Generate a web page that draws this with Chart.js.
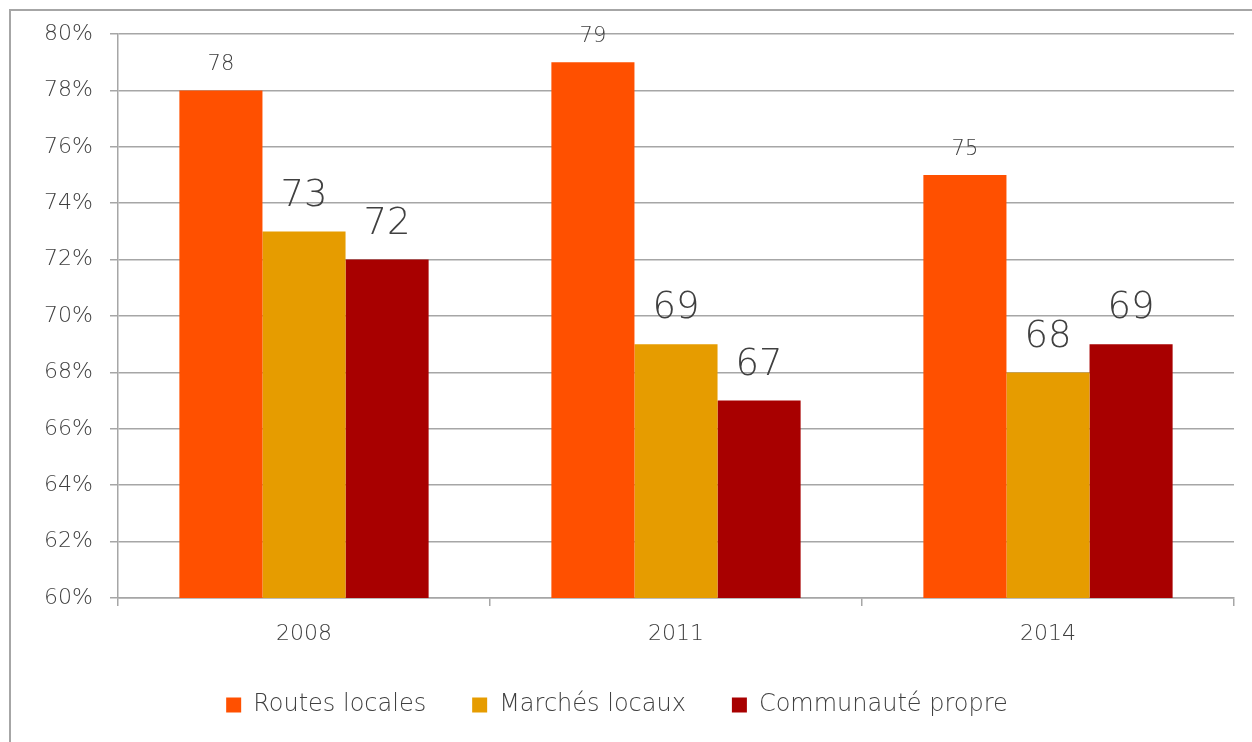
<!DOCTYPE html>
<html>
<head>
<meta charset="utf-8">
<script src="https://cdn.jsdelivr.net/npm/chart.js@4"></script>
<style>
    html, body { margin: 0; padding: 0; background: #fff; overflow: hidden; }
    #wrap { position: relative; width: 1252px; height: 742px; }
    #frame {
        position: absolute; left: 9px; top: 9px; width: 1300px; height: 800px;
        border-left: 2px solid #a6a6a6; border-top: 2px solid #a6a6a6;
        pointer-events: none;
    }
</style>
</head>
<body>
<div id="wrap">
    <canvas id="chart" width="1252" height="742"></canvas>
    <div id="frame"></div>
</div>
<script>
// Data
const years = ['2008', '2011', '2014'];
const seriesNames = ['Routes locales', 'Marchés locaux', 'Communauté propre'];
const routesLocales = [78, 79, 75];
const marchesLocaux = [73, 69, 68];
const communautePropre = [72, 67, 69];
const yTicks = [60, 62, 64, 66, 68, 70, 72, 74, 76, 78, 80];

const colors = ['#ff5000', '#e69c00', '#a80000'];
const labelSizes = [21, 37, 37];
const FONT = '"DejaVu Sans", sans-serif';
const WEIGHT = 300;
const TEXT = '#404040';
const GRID = '#a6a6a6';

// Draw the value labels above each bar
const valueLabels = {
    id: 'valueLabels',
    afterDatasetsDraw(chart) {
        const ctx = chart.ctx;
        ctx.save();
        ctx.fillStyle = TEXT;
        ctx.textAlign = 'center';
        ctx.textBaseline = 'bottom';
        chart.data.datasets.forEach((ds, i) => {
            const meta = chart.getDatasetMeta(i);
            ctx.font = WEIGHT + ' ' + labelSizes[i] + 'px ' + FONT;
            const gap = i === 0 ? 15 : 17;
            meta.data.forEach((bar, j) => {
                ctx.fillText(ds.data[j], bar.x, bar.y - gap);
            });
        });
        ctx.restore();
    }
};

new Chart(document.getElementById('chart'), {
    type: 'bar',
    data: {
        labels: years,
        datasets: [
            { label: seriesNames[0], data: routesLocales, backgroundColor: colors[0] },
            { label: seriesNames[1], data: marchesLocaux, backgroundColor: colors[1] },
            { label: seriesNames[2], data: communautePropre, backgroundColor: colors[2] }
        ]
    },
    options: {
        responsive: false,
        animation: false,
        layout: { padding: { top: 34, right: 18, left: 0, bottom: 15 } },
        datasets: {
            bar: { categoryPercentage: 0.67, barPercentage: 1.0 }
        },
        plugins: {
            legend: {
                position: 'bottom',
                labels: {
                    color: TEXT,
                    font: { family: FONT, size: 24, weight: WEIGHT },
                    boxWidth: 15,
                    boxHeight: 15,
                    padding: 46
                }
            },
            tooltip: { enabled: false }
        },
        scales: {
            x: {
                grid: { display: true, drawOnChartArea: false, offset: true, color: GRID, lineWidth: 1.5, tickLength: 8 },
                border: { color: GRID, width: 1.5 },
                ticks: { color: TEXT, font: { family: FONT, size: 22, weight: WEIGHT }, padding: 15 },
                afterFit(scale) { scale.height = 49; }
            },
            y: {
                min: 60,
                max: 80,
                afterBuildTicks(scale) { scale.ticks = yTicks.map(v => ({ value: v })); },
                grid: { color: GRID, lineWidth: 1.5, tickLength: 8 },
                border: { color: GRID, width: 1.5 },
                ticks: {
                    color: TEXT,
                    font: { family: FONT, size: 22, weight: WEIGHT },
                    padding: 17,
                    callback: v => v + '%'
                },
                afterFit(scale) { scale.width = 118; }
            }
        }
    },
    plugins: [valueLabels]
});
</script>
</body>
</html>
